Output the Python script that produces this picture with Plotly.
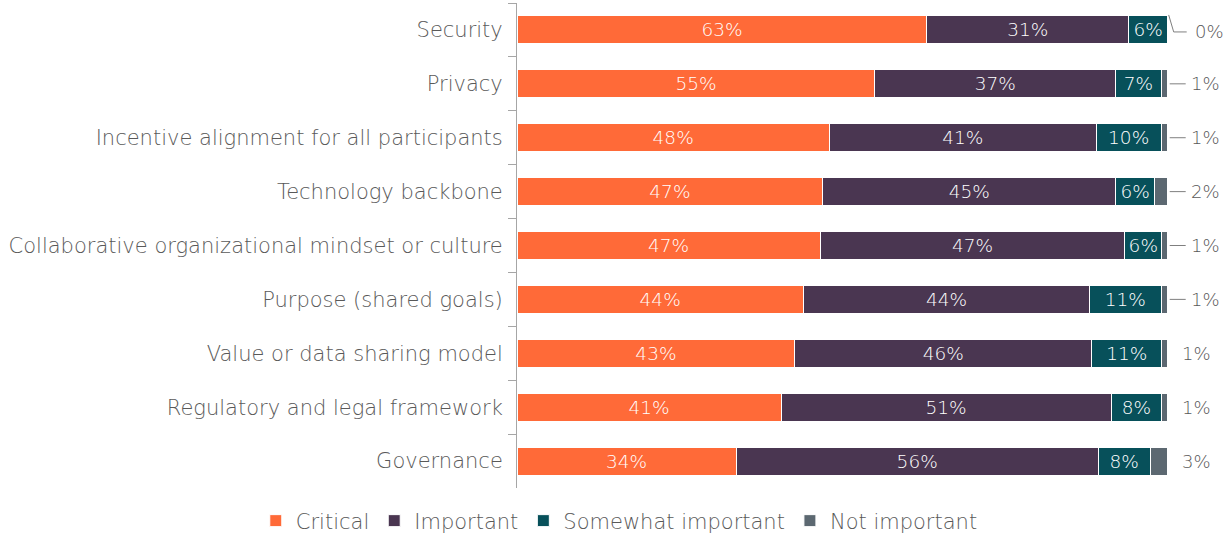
import plotly.graph_objects as go

categories = [
    "Security",
    "Privacy",
    "Incentive alignment for all participants",
    "Technology backbone",
    "Collaborative organizational mindset or culture",
    "Purpose (shared goals)",
    "Value or data sharing model",
    "Regulatory and legal framework",
    "Governance",
]
critical = [63, 55, 48, 47, 46.6, 44, 42.7, 40.6, 33.7]
important = [31, 37, 41, 45, 46.8, 44, 45.6, 50.7, 55.6]
somewhat = [6, 7, 10, 6, 5.7, 11, 10.8, 7.8, 8.0]
not_important = [0, 1, 1, 2, 0.9, 1, 0.9, 0.9, 2.7]
not_labels = ["0%", "1%", "1%", "2%", "1%", "1%", "1%", "1%", "3%"]

series = [
    ("Critical", critical, "#FF6A38", True),
    ("Important", important, "#4A3651", True),
    ("Somewhat important", somewhat, "#07505A", True),
    ("Not important", not_important, "#5C6871", False),
]

FONT = "DejaVu Sans"
GRAY = "#595959"
LW = 300

fig = go.Figure()
for name, vals, color, show_text in series:
    fig.add_trace(go.Bar(
        y=categories, x=vals, name=name, orientation="h",
        marker=dict(color=color, line=dict(color="white", width=1)),
        text=vals if show_text else None,
        texttemplate="%{x:.0f}%" if show_text else None,
        textposition="inside" if show_text else "none",
        insidetextanchor="middle",
        insidetextfont=dict(color="white", size=18.5, family=FONT, weight=LW),
        constraintext="none",
        hoverinfo="skip",
    ))

leader = [True, True, True, True, True, True, False, False, False]
lab_font = dict(size=18, color=GRAY, family=FONT, weight=LW)
big_font = dict(size=21, color=GRAY, family=FONT, weight=LW)
for i, cat in enumerate(categories):
    if i == 0:
        fig.add_shape(type="line", xref="x", yref="y", xsizemode="pixel", ysizemode="pixel",
                      xanchor=100, yanchor=cat, x0=1, y0=15, x1=6, y1=-2,
                      line=dict(color="#7F7F7F", width=1))
        fig.add_shape(type="line", xref="x", yref="y", xsizemode="pixel", ysizemode="pixel",
                      xanchor=100, yanchor=cat, x0=6, y0=-2, x1=19, y1=-2,
                      line=dict(color="#7F7F7F", width=1))
        fig.add_annotation(x=100, y=cat, xref="x", yref="y", text=not_labels[i],
                           showarrow=False, xanchor="center", xshift=42, yshift=-2,
                           font=lab_font)
    elif leader[i]:
        fig.add_shape(type="line", xref="x", yref="y", xsizemode="pixel", ysizemode="pixel",
                      xanchor=100, yanchor=cat, x0=2, y0=0, x1=18, y1=0,
                      line=dict(color="#7F7F7F", width=1))
        fig.add_annotation(x=100, y=cat, xref="x", yref="y", text=not_labels[i],
                           showarrow=False, xanchor="center", xshift=38,
                           font=lab_font)
    else:
        fig.add_annotation(x=100, y=cat, xref="x", yref="y", text=not_labels[i],
                           showarrow=False, xanchor="center", xshift=29,
                           font=lab_font)

fig.update_layout(
    barmode="stack",
    bargap=0.48,
    width=1226, height=533,
    margin=dict(l=517, r=3, t=3, b=45, autoexpand=False),
    paper_bgcolor="white", plot_bgcolor="white",
    font=dict(family=FONT, color=GRAY, size=18, weight=LW),
    uniformtext=dict(minsize=18, mode="show"),
    showlegend=True,
    legend=dict(orientation="h", xref="paper", yref="paper",
                x=-0.37, xanchor="left", y=-0.068, yanchor="middle",
                font=big_font, itemclick=False, traceorder="normal",
                itemwidth=30),
    xaxis=dict(range=[0, 108.5], visible=False, fixedrange=True),
    yaxis=dict(categoryorder="array", categoryarray=categories, autorange="reversed",
               showline=True, linecolor="#A6A6A6", linewidth=1,
               ticks="outside", tickson="boundaries", ticklen=8, tickcolor="#A6A6A6",
               ticklabelstandoff=9, automargin=False,
               tickfont=big_font, showgrid=False),
)

fig.write_html("out.html", config={"displayModeBar": False})
with open("out.html", encoding="utf-8") as f:
    html = f.read()
html = html.replace("<body>", '<body style="margin:0;padding:0;overflow:hidden">', 1)
with open("out.html", "w", encoding="utf-8") as f:
    f.write(html)
